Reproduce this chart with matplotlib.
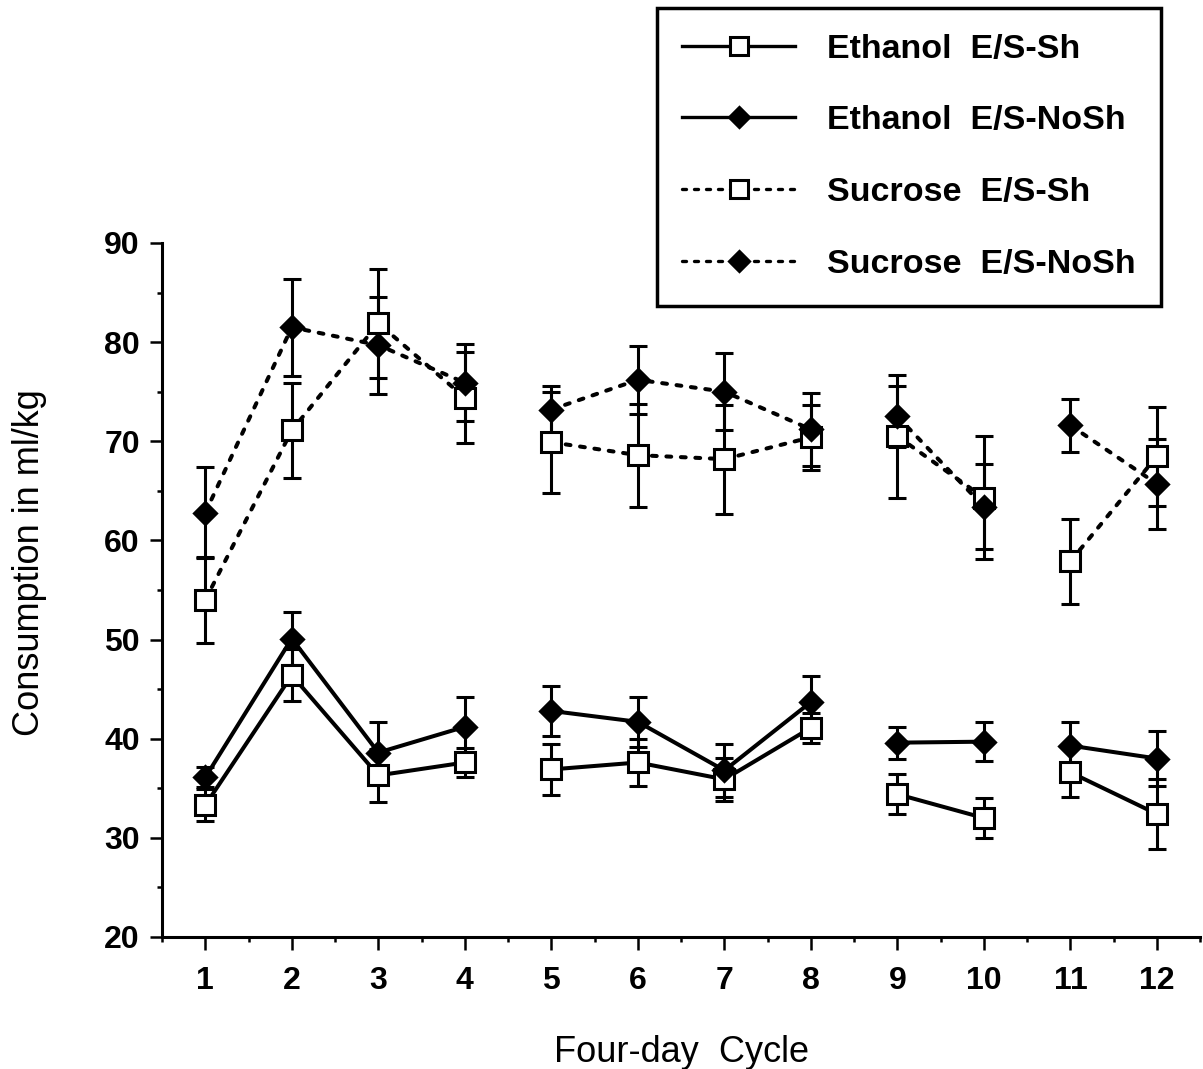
import matplotlib
matplotlib.use('Agg')
from matplotlib import pyplot as plt
from matplotlib.lines import Line2D
from matplotlib.ticker import MultipleLocator

plt.rcParams['font.family'] = ['Liberation Sans', 'DejaVu Sans']

CYCLES = [1, 2, 3, 4, 5, 6, 7, 8, 9, 10, 11, 12]
# runs of cycles joined by a line (gaps between 4-5, 8-9, 10-11)
RUNS = [(0, 4), (4, 8), (8, 10), (10, 12)]

eth_sh = [33.3, 46.4, 36.3, 37.6, 36.9, 37.6, 35.9, 41.1, 34.4, 32.0, 36.6, 32.4]
eth_sh_err = [1.6, 2.6, 2.7, 1.5, 2.6, 2.4, 2.2, 1.5, 2.0, 2.0, 2.5, 3.5]
eth_nosh = [36.1, 50.1, 38.6, 41.2, 42.8, 41.7, 36.8, 43.7, 39.6, 39.7, 39.3, 38.0]
eth_nosh_err = [1.0, 2.7, 3.1, 3.0, 2.5, 2.5, 2.7, 2.6, 1.6, 2.0, 2.4, 2.8]
suc_sh = [54.0, 71.1, 81.9, 74.4, 69.9, 68.6, 68.2, 70.4, 70.5, 64.3, 57.9, 68.5]
suc_sh_err = [4.3, 4.8, 5.5, 4.6, 5.1, 5.2, 5.5, 3.3, 6.2, 6.2, 4.3, 5.0]
suc_nosh = [62.8, 81.5, 79.7, 75.9, 73.2, 76.2, 75.0, 71.2, 72.5, 63.4, 71.6, 65.7]
suc_nosh_err = [4.6, 4.9, 4.9, 3.9, 2.4, 3.4, 3.9, 3.7, 3.1, 4.3, 2.7, 4.5]

LABELS = [
    'Ethanol  E/S-Sh',
    'Ethanol  E/S-NoSh',
    'Sucrose  E/S-Sh',
    'Sucrose  E/S-NoSh',
]

DASH = (1.2, 2.4)


def style(marker, dashed):
    kw = dict(color='black', marker=marker, markeredgecolor='black', markeredgewidth=2.2)
    if marker == 's':
        kw.update(markersize=14, markerfacecolor='white')
    else:
        kw.update(markersize=11.5, markerfacecolor='black')
    if dashed:
        kw.update(linestyle=(0, DASH), dash_capstyle='round')
    else:
        kw.update(linestyle='-')
    return kw


def plot_series(ax, y, err, marker, dashed):
    kw = style(marker, dashed)
    for a, b in RUNS:
        ax.plot(CYCLES[a:b], y[a:b], linewidth=2.9, zorder=2,
                **{k: v for k, v in kw.items() if not k.startswith('marker')})
    ax.errorbar(CYCLES, y, yerr=err, fmt='none', ecolor='black', elinewidth=2.2,
                capsize=6.5, capthick=2.2, zorder=3)
    ax.plot(CYCLES, y, linestyle='none', zorder=4,
            **{k: v for k, v in kw.items() if k.startswith('marker') or k == 'color'})


def main():
    fig = plt.figure(figsize=(12.03, 10.69), dpi=100)
    ax = fig.add_axes([0.1347, 0.1235, 0.863, 0.6492])

    plot_series(ax, eth_sh, eth_sh_err, 's', False)
    plot_series(ax, eth_nosh, eth_nosh_err, 'D', False)
    plot_series(ax, suc_sh, suc_sh_err, 's', True)
    plot_series(ax, suc_nosh, suc_nosh_err, 'D', True)

    ax.set_xlim(0.5, 12.5)
    ax.set_ylim(20, 90)
    ax.set_xticks(CYCLES)
    ax.xaxis.set_minor_locator(MultipleLocator(0.5))
    ax.set_yticks(range(20, 91, 10))
    ax.yaxis.set_minor_locator(MultipleLocator(5))

    for side in ('top', 'right'):
        ax.spines[side].set_visible(False)
    for side in ('left', 'bottom'):
        ax.spines[side].set_linewidth(2.2)

    ax.tick_params(which='major', direction='out', length=9, width=1.8)
    ax.tick_params(which='minor', direction='out', length=3.5, width=1.8)
    ax.tick_params(axis='x', which='major', pad=12, labelsize=23)
    ax.tick_params(axis='y', which='major', pad=7, labelsize=23)
    for lab in ax.get_xticklabels() + ax.get_yticklabels():
        lab.set_fontweight('bold')

    ax.set_xlabel('Four-day  Cycle', fontsize=26, va='center')
    ax.xaxis.set_label_coords(0.5, -0.166)
    ax.set_ylabel('Consumption in ml/kg', fontsize=26, va='center', ha='center')
    ax.yaxis.set_label_coords(-0.128, 0.54)

    handles = []
    for marker, dashed in [('s', False), ('D', False), ('s', True), ('D', True)]:
        kw = style(marker, dashed)
        kw['markersize'] -= 1.5
        handles.append(Line2D([], [], linewidth=2.4, **kw))

    leg = fig.legend(handles, LABELS, loc='upper left', bbox_to_anchor=(0.546, 0.9925),
                     borderaxespad=0, fancybox=False, edgecolor='black', framealpha=1,
                     prop={'size': 24.5, 'weight': 'bold'}, handlelength=3.3,
                     handletextpad=0.95, labelspacing=1.2, borderpad=0.75, numpoints=1)
    leg.get_frame().set_linewidth(2.5)

    fig.savefig('out.png', dpi=100)


if __name__ == '__main__':
    main()
